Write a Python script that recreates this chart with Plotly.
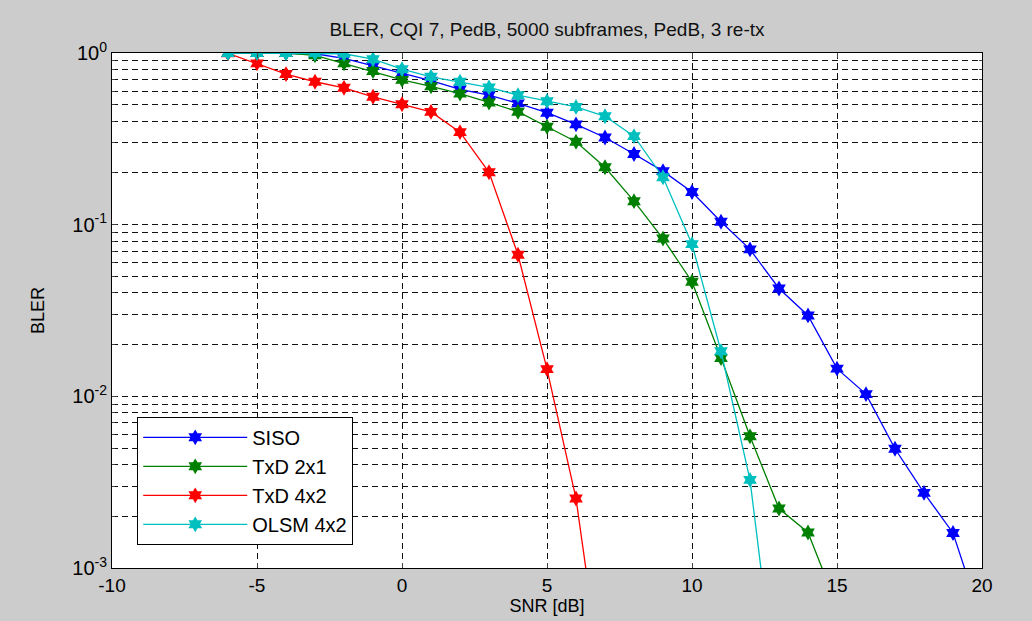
import plotly.graph_objects as go

snr = [-6, -5, -4, -3, -2, -1, 0, 1, 2, 3, 4, 5, 6, 7, 8, 9, 10, 11, 12, 13, 14, 15, 16, 17, 18, 19, 20]

siso = [1.0, 1.0, 1.0, 0.99, 0.93, 0.84, 0.76, 0.69, 0.614, 0.568, 0.509, 0.449, 0.384, 0.322, 0.258,
        0.205, 0.155, 0.104, 0.0718, 0.0425, 0.0296, 0.0145, 0.0103, 0.00495, 0.00274, 0.0016, 0.00049]

txd21_snr = [-6, -5, -4, -3, -2, -1, 0, 1, 2, 3, 4, 5, 6, 7, 8, 9, 10, 11, 12, 13, 14, 15]
txd21 = [1.0, 1.0, 1.0, 0.97, 0.87, 0.785, 0.697, 0.64, 0.58, 0.515, 0.455, 0.372, 0.304, 0.216, 0.137,
         0.083, 0.0465, 0.0167, 0.00585, 0.00222, 0.00161, 0.0006]

txd42_snr = [-6, -5, -4, -3, -2, -1, 0, 1, 2, 3, 4, 5, 6, 7]
txd42 = [0.995, 0.87, 0.754, 0.68, 0.627, 0.556, 0.503, 0.454, 0.346, 0.202, 0.0668, 0.0144, 0.00254, 0.00016]

olsm_snr = [-6, -5, -4, -3, -2, -1, 0, 1, 2, 3, 4, 5, 6, 7, 8, 9, 10, 11, 12, 13]
olsm = [1.0, 1.0, 1.0, 1.0, 0.99, 0.92, 0.805, 0.727, 0.68, 0.63, 0.568, 0.524, 0.485, 0.428, 0.328,
        0.189, 0.077, 0.0183, 0.00326, 0.00014]

series = [
    ("SISO", snr, siso, "#0000ff"),
    ("TxD 2x1", txd21_snr, txd21, "#008000"),
    ("TxD 4x2", txd42_snr, txd42, "#ff0000"),
    ("OLSM 4x2", olsm_snr, olsm, "#00bfbf"),
]

ytickvals = [1e-3, 1e-2, 1e-1, 1]
yticktext = ["10<sup>-3</sup>", "10<sup>-2</sup>", "10<sup>-1</sup>", "10<sup>0</sup>"]
xtickvals = [-10, -5, 0, 5, 10, 15, 20]
xticktext = ["-10", "-5", "0", "5", "10", "15", "20"]

FONT = "Liberation Sans, Arial, sans-serif"

fig = go.Figure()
for name, xs, ys, col in series:
    fig.add_trace(go.Scatter(
        x=xs, y=ys, name=name, mode="lines+markers",
        line=dict(color=col, width=1.3),
        marker=dict(symbol="hexagram", size=12, color=col, line=dict(width=0)),
    ))

grid = dict(showgrid=True, gridcolor="#111111", gridwidth=1, griddash="6px,4px")

fig.update_layout(
    width=1032, height=621,
    paper_bgcolor="#cccccc", plot_bgcolor="#ffffff",
    margin=dict(l=112, r=50, t=53, b=53),
    font=dict(family=FONT, size=16, color="#000000"),
    title=dict(text="BLER, CQI 7, PedB, 5000 subframes, PedB, 3 re-tx",
               x=0.53, xanchor="center", y=0.952, yanchor="middle",
               font=dict(family=FONT, size=19, color="#111111")),
    legend=dict(x=0.029, y=0.045, xanchor="left", yanchor="bottom",
                bgcolor="#ffffff", bordercolor="#000000", borderwidth=1,
                font=dict(family=FONT, size=20), tracegroupgap=0, itemwidth=104),
    showlegend=True,
)

fig.update_xaxes(
    range=[-10, 20], tickvals=xtickvals, ticktext=xticktext, ticks="inside", ticklen=5,
    showline=True, linecolor="#000000", linewidth=1, mirror="ticks",
    tickfont=dict(family=FONT, size=19), zeroline=False,
    title=dict(text="SNR [dB]", font=dict(family=FONT, size=18), standoff=2),
    **grid,
)
fig.update_yaxes(
    type="log", range=[-3, 0], tickvals=ytickvals, ticktext=yticktext,
    ticks="inside", ticklen=5,
    showline=True, linecolor="#000000", linewidth=1, mirror="ticks",
    tickfont=dict(family=FONT, size=20), zeroline=False,
    title=dict(text="BLER", font=dict(family=FONT, size=18), standoff=22),
    minor=dict(showgrid=True, gridcolor="#111111", gridwidth=1, griddash="6px,4px",
               ticks="inside", ticklen=3, dtick="D1"),
    **grid,
)

fig.write_html("out.html")
